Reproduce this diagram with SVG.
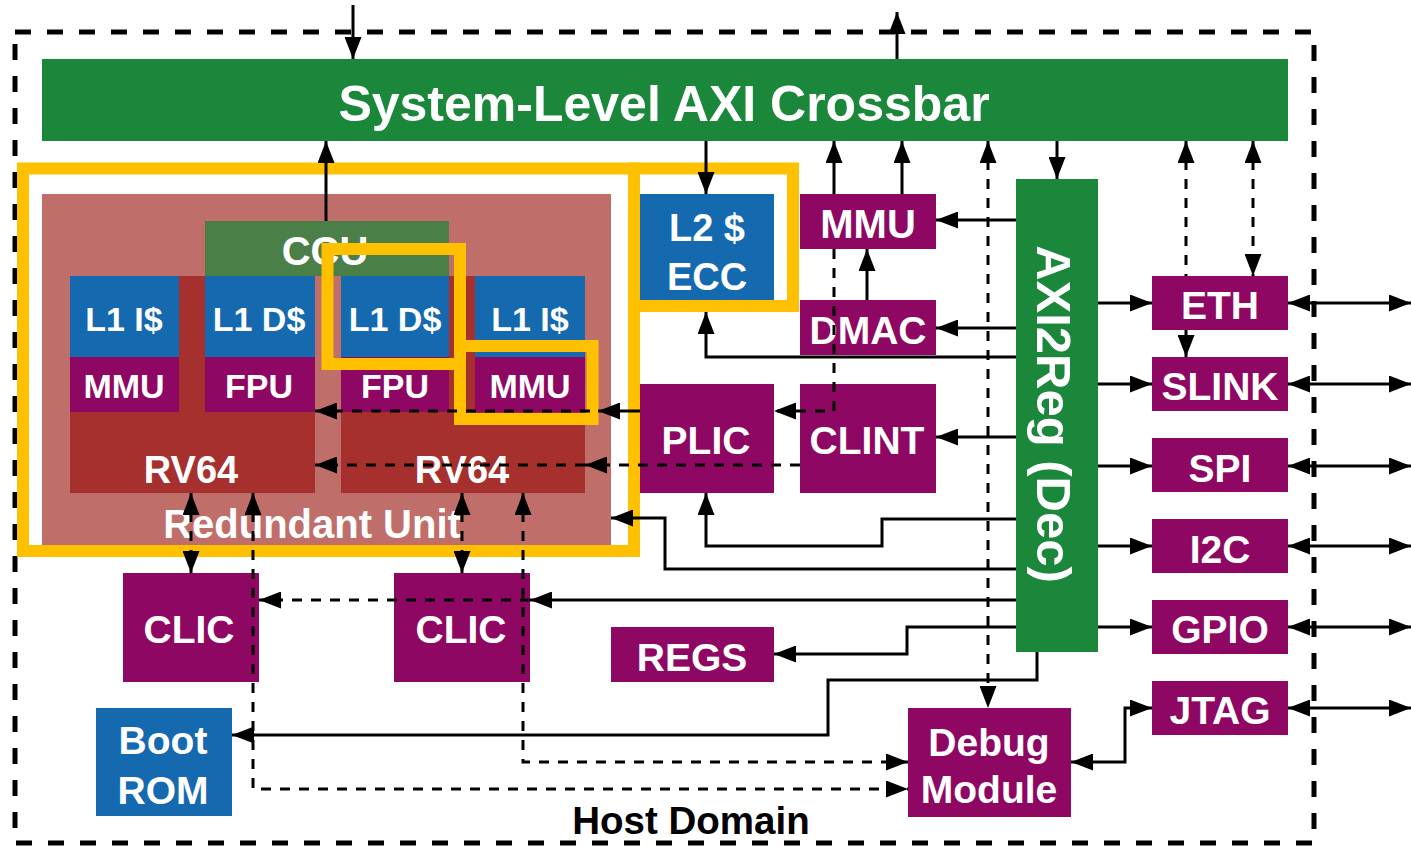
<svg xmlns="http://www.w3.org/2000/svg" width="1411" height="846" viewBox="0 0 1411 846">
<defs>
<style>
.t{fill:#fff;font-family:"Liberation Sans",Arial,sans-serif;font-weight:bold;text-anchor:middle}
.blue{fill:#1569AF}.pur{fill:#8E0763}.grn{fill:#1A873A}.dred{fill:#A5302D}.pink{fill:#C06E6A}.ccu{fill:#4A7F47}
.yb{fill:none;stroke:#FFC000;stroke-width:12}
.ln{fill:none;stroke:#000;stroke-width:3}
.d{stroke-dasharray:10 9}
</style>
<marker id="ah" markerUnits="userSpaceOnUse" markerWidth="22" markerHeight="17" refX="22" refY="8.5" orient="auto-start-reverse" viewBox="0 0 22 17"><path d="M0,0 L22,8.5 L0,17 z" fill="#000"/></marker>
</defs>
<rect width="1411" height="846" fill="#fff"/>
<g id="host-domain">
<rect x="15" y="32" width="1299" height="811" fill="none" stroke="#000" stroke-width="5" stroke-dasharray="16 16"/>
<text x="691" y="834" style="font-family:'Liberation Sans',Arial,sans-serif;font-weight:bold;font-size:38.5px;text-anchor:middle;fill:#000">Host Domain</text>
</g>
<g id="crossbar"><rect class="grn" x="42" y="59" width="1246" height="82"/><text class="t" x="664" y="121" font-size="50">System-Level AXI Crossbar</text></g>
<g id="redundant-unit"><rect class="pink" x="42" y="194" width="569" height="351"/><text class="t" x="312" y="538" font-size="40">Redundant Unit</text></g>
<g id="ccu"><rect class="ccu" x="205" y="221" width="244" height="55"/><text class="t" x="325" y="265" font-size="40">CCU</text></g>
<g id="core-left">
<rect class="dred" x="70" y="276" width="245" height="217"/>
<rect class="blue" x="70" y="276" width="109" height="81"/><text class="t" x="124" y="331" font-size="34">L1 I$</text>
<rect class="blue" x="205" y="276" width="110" height="81"/><text class="t" x="259" y="331" font-size="34">L1 D$</text>
<rect class="pur" x="70" y="357" width="109" height="55"/><text class="t" x="124" y="398" font-size="34">MMU</text>
<rect class="pur" x="205" y="357" width="110" height="55"/><text class="t" x="259" y="398" font-size="34">FPU</text>
<text class="t" x="191" y="483" font-size="38">RV64</text>
</g>
<g id="core-right">
<rect class="dred" x="341" y="276" width="244" height="217"/>
<rect class="blue" x="341" y="276" width="108" height="81"/><text class="t" x="395" y="331" font-size="34">L1 D$</text>
<rect class="blue" x="475" y="276" width="110" height="81"/><text class="t" x="530" y="331" font-size="34">L1 I$</text>
<rect class="pur" x="341" y="357" width="108" height="55"/><text class="t" x="395" y="398" font-size="34">FPU</text>
<rect class="pur" x="475" y="357" width="110" height="55"/><text class="t" x="530" y="398" font-size="34">MMU</text>
<text class="t" x="462" y="483" font-size="38">RV64</text>
</g>
<g id="l2"><rect class="blue" x="640" y="194" width="134" height="106"/><text class="t" x="707" y="241" font-size="38">L2 $</text><text class="t" x="707" y="290" font-size="38">ECC</text></g>
<g id="mmu"><rect class="pur" x="800" y="194" width="136" height="55"/><text class="t" x="868" y="238" font-size="40">MMU</text></g>
<g id="dmac"><rect class="pur" x="800" y="300" width="136" height="55"/><text class="t" x="868" y="344" font-size="39">DMAC</text></g>
<g id="plic"><rect class="pur" x="640" y="384" width="134" height="109"/><text class="t" x="706" y="454" font-size="39">PLIC</text></g>
<g id="clint"><rect class="pur" x="800" y="384" width="136" height="109"/><text class="t" x="867" y="454" font-size="39">CLINT</text></g>
<g id="axi2reg"><rect class="grn" x="1016" y="179" width="82" height="473"/><text class="t" font-size="49" transform="translate(1037,414) rotate(90)">AXI2Reg (Dec)</text></g>
<g id="eth"><rect class="pur" x="1152" y="276" width="136" height="54"/><text class="t" x="1220" y="319" font-size="39">ETH</text></g>
<g id="slink"><rect class="pur" x="1152" y="357" width="136" height="54"/><text class="t" x="1220" y="400" font-size="39">SLINK</text></g>
<g id="spi"><rect class="pur" x="1152" y="438" width="136" height="54"/><text class="t" x="1220" y="482" font-size="39">SPI</text></g>
<g id="i2c"><rect class="pur" x="1152" y="519" width="136" height="54"/><text class="t" x="1220" y="563" font-size="39">I2C</text></g>
<g id="gpio"><rect class="pur" x="1152" y="600" width="136" height="54"/><text class="t" x="1220" y="643" font-size="39">GPIO</text></g>
<g id="jtag"><rect class="pur" x="1152" y="681" width="136" height="54"/><text class="t" x="1220" y="724" font-size="39">JTAG</text></g>
<g id="clic-left"><rect class="pur" x="123" y="573" width="136" height="109"/><text class="t" x="189" y="643" font-size="39">CLIC</text></g>
<g id="clic-right"><rect class="pur" x="394" y="573" width="136" height="109"/><text class="t" x="461" y="643" font-size="39">CLIC</text></g>
<g id="regs"><rect class="pur" x="611" y="627" width="163" height="55"/><text class="t" x="692" y="671" font-size="39">REGS</text></g>
<g id="bootrom"><rect class="blue" x="96" y="708" width="136" height="108"/><text class="t" x="163" y="754" font-size="39">Boot</text><text class="t" x="163" y="804" font-size="39">ROM</text></g>
<g id="debug"><rect class="pur" x="908" y="708" width="163" height="109"/><text class="t" x="989" y="756" font-size="39">Debug</text><text class="t" x="989" y="803" font-size="39">Module</text></g>
<g id="highlights">
<rect class="yb" x="23" y="168.5" width="611" height="382.5"/>
<rect class="yb" x="634" y="168.5" width="159" height="137.5"/>
<rect class="yb" x="327.5" y="249" width="132.5" height="115"/>
<rect class="yb" x="460" y="346" width="132.5" height="73"/>
</g>
<g id="connectors">
<path class="ln" d="M353,5 V59" marker-end="url(#ah)"/>
<path class="ln" d="M897,59 V12" marker-end="url(#ah)"/>
<path class="ln" d="M326,221 V141" marker-end="url(#ah)"/>
<path class="ln" d="M706,141 V194" marker-end="url(#ah)"/>
<path class="ln" d="M834,194 V141" marker-end="url(#ah)"/>
<path class="ln" d="M902,194 V141" marker-end="url(#ah)"/>
<path class="ln d" d="M988,141 V708" marker-start="url(#ah)" marker-end="url(#ah)"/>
<path class="ln" d="M1057,141 V179" marker-end="url(#ah)"/>
<path class="ln d" d="M1186,141 V276" marker-start="url(#ah)"/>
<path class="ln d" d="M1186,330 V357" marker-end="url(#ah)"/>
<path class="ln d" d="M1253,141 V276" marker-start="url(#ah)" marker-end="url(#ah)"/>
<path class="ln" d="M1016,220 H936" marker-end="url(#ah)"/>
<path class="ln" d="M1016,328 H936" marker-end="url(#ah)"/>
<path class="ln" d="M867,300 V249" marker-end="url(#ah)"/>
<path class="ln" d="M1016,357 H706 V312" marker-end="url(#ah)"/>
<path class="ln d" d="M834,249 V411 H774" marker-end="url(#ah)"/>
<path class="ln" d="M1016,437 H936" marker-end="url(#ah)"/>
<path class="ln d" d="M800,465 H585" marker-end="url(#ah)"/>
<path class="ln d" d="M585,465 H315" marker-end="url(#ah)"/>
<path class="ln" d="M640,411 H598" marker-end="url(#ah)"/>
<path class="ln d" d="M590,411 H315" marker-end="url(#ah)"/>
<path class="ln" d="M1016,519 H882 V546 H706 V493" marker-end="url(#ah)"/>
<path class="ln" d="M1016,569 H665 V518 H611" marker-end="url(#ah)"/>
<path class="ln" d="M1016,600 H530" marker-end="url(#ah)"/>
<path class="ln d" d="M530,600 H259" marker-end="url(#ah)"/>
<path class="ln" d="M1016,627 H907 V654 H774" marker-end="url(#ah)"/>
<path class="ln" d="M1037,652 V680 H828 V735 H232" marker-end="url(#ah)"/>
<path class="ln d" d="M191,493 V573" marker-start="url(#ah)" marker-end="url(#ah)"/>
<path class="ln d" d="M462,493 V573" marker-start="url(#ah)" marker-end="url(#ah)"/>
<path class="ln d" d="M253,493 V789 H908" marker-start="url(#ah)" marker-end="url(#ah)"/>
<path class="ln d" d="M523,493 V762 H908" marker-start="url(#ah)" marker-end="url(#ah)"/>
<path class="ln" d="M1071,762 H1125 V708 H1152" marker-start="url(#ah)" marker-end="url(#ah)"/>
<path class="ln" d="M1098,303 H1152" marker-end="url(#ah)"/>
<path class="ln" d="M1098,384 H1152" marker-end="url(#ah)"/>
<path class="ln" d="M1098,466 H1152" marker-end="url(#ah)"/>
<path class="ln" d="M1098,546 H1152" marker-end="url(#ah)"/>
<path class="ln" d="M1098,627 H1152" marker-end="url(#ah)"/>
<path class="ln" d="M1288,303 H1411" marker-start="url(#ah)" marker-end="url(#ah)"/>
<path class="ln" d="M1288,384 H1411" marker-start="url(#ah)" marker-end="url(#ah)"/>
<path class="ln" d="M1288,466 H1411" marker-start="url(#ah)" marker-end="url(#ah)"/>
<path class="ln" d="M1288,546 H1411" marker-start="url(#ah)" marker-end="url(#ah)"/>
<path class="ln" d="M1288,627 H1411" marker-start="url(#ah)" marker-end="url(#ah)"/>
<path class="ln" d="M1288,708 H1411" marker-start="url(#ah)" marker-end="url(#ah)"/>
</g>
</svg>
